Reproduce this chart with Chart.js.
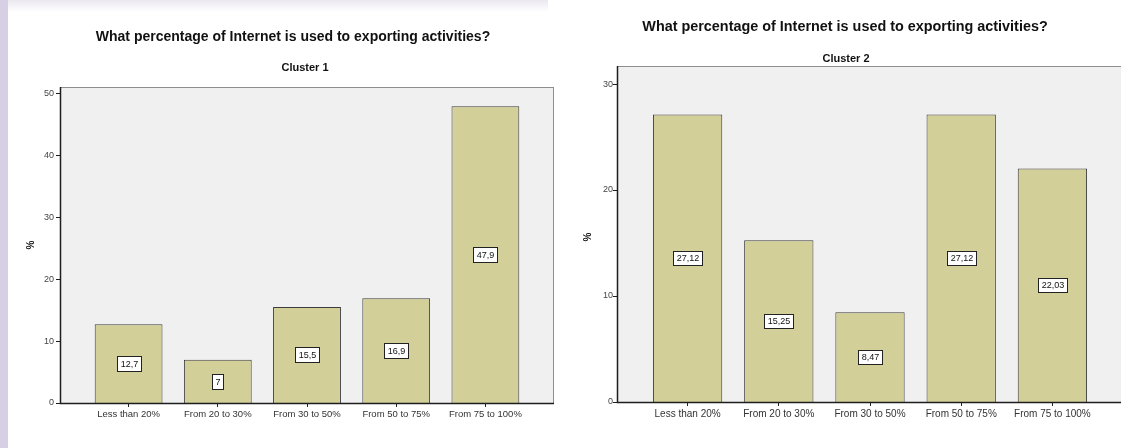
<!DOCTYPE html>
<html>
<head>
<meta charset="utf-8">
<title>Internet use for exporting activities</title>
<script src="https://cdn.jsdelivr.net/npm/chart.js@4.4.1/dist/chart.umd.min.js"></script>
<style>
  html, body { margin: 0; padding: 0; background: #fff; }
  #wrap { position: relative; width: 1121px; height: 448px; overflow: hidden; background: #fff; }
  #strip { position: absolute; left: 0; top: 0; width: 8px; height: 448px; background: #d7cfe3; }
  #band { position: absolute; left: 0; top: 0; width: 548px; height: 12px;
          background: linear-gradient(to bottom, #ebe7f0, #ffffff); }
  canvas { position: absolute; top: 0; }
  #c1 { left: 0; }
  #c2 { left: 560px; }
</style>
</head>
<body>
<div id="wrap">
  <div id="band"></div>
  <div id="strip"></div>
  <canvas id="c1" width="560" height="448"></canvas>
  <canvas id="c2" width="561" height="448"></canvas>
</div>
<script>
// data
const categories = ['Less than 20%', 'From 20 to 30%', 'From 30 to 50%', 'From 50 to 75%', 'From 75 to 100%'];
const cluster1Pct = [12.7, 7, 15.5, 16.9, 47.9];
const cluster2Pct = [27.12, 15.25, 8.47, 27.12, 22.03];
const cluster1Max = 51;
const cluster2Max = 31.7;
const yStep = 10;
const chartTitle = 'What percentage of Internet is used to exporting activities?';
const clusterNames = ['Cluster 1', 'Cluster 2'];
const yAxisLabel = '%';

const BAR_FILL = '#d3cf98';
const BAR_EDGE = '#3c3c3c';
const PLOT_BG = '#f0f0f0';
const FONT = '"Liberation Sans", Arial, sans-serif';

function fmt(v) {
  return String(v).replace('.', ',');
}

// grey plot box, axes, value boxes and titles, SPSS style
const spssFrame = {
  id: 'spssFrame',
  beforeDraw(chart, args, o) {
    const { ctx, chartArea: a } = chart;
    const x0 = a.left - o.gapLeft, x1 = a.right + o.gapRight;
    ctx.save();
    ctx.fillStyle = PLOT_BG;
    ctx.fillRect(x0, a.top, x1 - x0, a.bottom - a.top);
    ctx.strokeStyle = '#8e8e8e';
    ctx.lineWidth = 1;
    ctx.strokeRect(x0 + 0.5, a.top + 0.5, x1 - x0 - 1, a.bottom - a.top);
    ctx.restore();
  },
  afterDatasetsDraw(chart, args, o) {
    const { ctx, chartArea: a } = chart;
    const x0 = Math.round(a.left - o.gapLeft), x1 = a.right + o.gapRight;
    const yScale = chart.scales.y;
    ctx.save();
    // axes
    ctx.strokeStyle = '#1e1e1e';
    ctx.lineWidth = 1.5;
    ctx.beginPath();
    ctx.moveTo(x0 + 0.5, a.top);
    ctx.lineTo(x0 + 0.5, a.bottom + 0.5);
    ctx.lineTo(x1, a.bottom + 0.5);
    ctx.stroke();
    ctx.lineWidth = 1;
    yScale.ticks.forEach(t => {
      const y = Math.round(yScale.getPixelForValue(t.value)) + 0.5;
      ctx.beginPath();
      ctx.moveTo(x0 - 4, y);
      ctx.lineTo(x0, y);
      ctx.stroke();
    });
    // value boxes
    const meta = chart.getDatasetMeta(0);
    const vals = chart.data.datasets[0].data;
    ctx.font = o.labelFont + 'px ' + FONT;
    ctx.textAlign = 'center';
    ctx.textBaseline = 'middle';
    meta.data.forEach((bar, i) => {
      const txt = fmt(vals[i]);
      const cy = (bar.y + bar.base) / 2;
      const w = Math.round(ctx.measureText(txt).width + 2 * o.labelPadX);
      const h = o.labelH;
      const bx = Math.round(bar.x - w / 2), by = Math.round(cy - h / 2);
      ctx.fillStyle = '#ffffff';
      ctx.fillRect(bx, by, w, h);
      ctx.strokeStyle = '#222';
      ctx.strokeRect(bx + 0.5, by + 0.5, w, h);
      ctx.fillStyle = '#111';
      ctx.fillText(txt, bx + w / 2 + 0.5, by + h / 2 + 1);
    });
    ctx.restore();
  },
  afterDraw(chart, args, o) {
    const { ctx } = chart;
    ctx.save();
    ctx.fillStyle = '#111';
    ctx.textAlign = 'center';
    ctx.textBaseline = 'middle';
    ctx.font = 'bold ' + o.titleSize + 'px ' + FONT;
    ctx.fillText(chartTitle, o.titleX, o.titleY);
    ctx.font = 'bold 11px ' + FONT;
    ctx.fillText(o.subtitle, o.subX, o.subY);
    ctx.translate(o.yLabelX, o.yLabelY);
    ctx.rotate(-Math.PI / 2);
    ctx.font = 'bold 10px ' + FONT;
    ctx.fillText(yAxisLabel, 0, 0);
    ctx.restore();
  }
};

function makeChart(id, values, yMax, frame, lay) {
  return new Chart(document.getElementById(id), {
    type: 'bar',
    data: {
      labels: categories,
      datasets: [{
        data: values,
        backgroundColor: BAR_FILL,
        borderColor: BAR_EDGE,
        borderWidth: 1,
        barPercentage: 0.76,
        categoryPercentage: 1
      }]
    },
    options: {
      responsive: false,
      animation: false,
      layout: { padding: lay.padding },
      plugins: {
        legend: { display: false },
        tooltip: { enabled: false },
        spssFrame: frame
      },
      scales: {
        x: {
          grid: { display: true, drawOnChartArea: false, drawTicks: true, tickLength: 4, color: '#222', offset: false },
          border: { display: false },
          ticks: { color: '#333', font: { family: FONT, size: lay.xFont }, padding: 2, maxRotation: 0, autoSkip: false },
          afterFit: s => { s.height = lay.xHeight; }
        },
        y: {
          min: 0,
          max: yMax,
          grid: { display: false, drawTicks: false },
          border: { display: false },
          ticks: { stepSize: yStep, includeBounds: false, padding: lay.yPad, color: '#444', font: { family: FONT, size: 9 } },
          afterFit: s => { s.width = lay.yWidth; }
        }
      }
    },
    plugins: [spssFrame]
  });
}

makeChart('c1', cluster1Pct, cluster1Max,
  { gapLeft: 24, gapRight: 24, labelFont: 9, labelPadX: 3, labelH: 15,
    titleSize: 14, titleX: 293, titleY: 37, subtitle: clusterNames[0], subX: 305, subY: 68,
    yLabelX: 31, yLabelY: 245 },
  { padding: { left: 0, right: 30, top: 87, bottom: 0 }, yWidth: 84, yPad: 30, xHeight: 45, xFont: 9.5 });

makeChart('c2', cluster2Pct, cluster2Max,
  { gapLeft: 25, gapRight: 25, labelFont: 9, labelPadX: 3, labelH: 14,
    titleSize: 14.4, titleX: 285, titleY: 27, subtitle: clusterNames[1], subX: 286, subY: 59,
    yLabelX: 28, yLabelY: 237 },
  { padding: { left: 0, right: 23, top: 66, bottom: 0 }, yWidth: 82, yPad: 29, xHeight: 46, xFont: 10 });
</script>
</body>
</html>
